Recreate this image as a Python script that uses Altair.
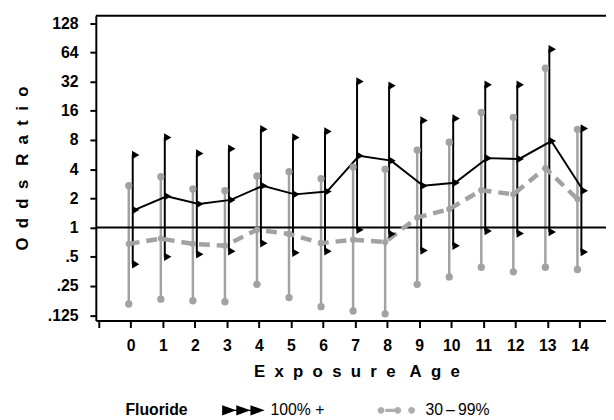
import altair as alt
import pandas as pd

# ---------------- data ----------------
ages = list(range(15))

hi_or = [1.52, 2.1, 1.75, 1.93, 2.7, 2.2, 2.35, 5.5, 4.9, 2.7, 2.9, 5.2, 5.1, 7.8, 2.4]
hi_lo = [0.42, 0.50, 0.53, 0.57, 0.69, 0.55, 0.57, 0.95, 0.86, 0.58, 0.65, 0.92, 0.87, 0.90, 0.56]
hi_up = [5.6, 8.5, 5.8, 6.5, 10.3, 8.5, 9.8, 32, 29, 12.7, 13.3, 29.6, 29.6, 69, 10.5]

mid_or = [0.68, 0.77, 0.68, 0.65, 0.95, 0.86, 0.69, 0.75, 0.71, 1.27, 1.55, 2.43, 2.2, 4.1, 1.97]
mid_lo = [0.163, 0.183, 0.176, 0.172, 0.26, 0.19, 0.153, 0.138, 0.129, 0.26, 0.31, 0.39, 0.35, 0.39, 0.37]
mid_up = [2.7, 3.35, 2.5, 2.4, 3.4, 3.77, 3.2, 4.2, 4.0, 6.3, 7.6, 15.4, 13.7, 44, 10.3]

groups = ["100% +", "30\u2009\u2013\u200999%"]
legend_title = "Fluoride"

y_tick_values = [0.125, 0.25, 0.5, 1, 2, 4, 8, 16, 32, 64, 128]
y_tick_labels = [".125", ".25", ".5", "1", "2", "4", "8", "16", "32", "64", "128"]
x_tick_values = list(range(-1, 15))

x_title = "Exposure Age"
y_title = "Odds Ratio"

# ---------------- styling ----------------
FONT = "Liberation Sans"
BLACK = "#000000"
GRAY = "#a2a2a2"
LEGEND_GRAY = "#adadad"

XMIN, XMAX = -1.09, 14.83
YMIN, YMAX = 0.110, 153.0


def spaced(text):
    words = text.split(" ")
    return "\u00a0\u00a0\u00a0".join("\u00a0\u00a0".join(w) for w in words)


rows = []
for i, a in enumerate(ages):
    rows.append({"age": a, "group": groups[0], "or": hi_or[i], "lo": hi_lo[i], "up": hi_up[i]})
    rows.append({"age": a, "group": groups[1], "or": mid_or[i], "lo": mid_lo[i], "up": mid_up[i]})
df = pd.DataFrame(rows)
hi = df[df["group"] == groups[0]]
mid = df[df["group"] == groups[1]]

xs = alt.Scale(domain=[XMIN, XMAX], nice=False, zero=False)
ys = alt.Scale(type="log", base=2, domain=[YMIN, YMAX], nice=False)

label_map = " : ".join(
    f"datum.value == {v} ? '{l}'" for v, l in zip(y_tick_values, y_tick_labels)
) + " : ''"

x_axis = alt.Axis(
    values=x_tick_values,
    labelExpr="datum.value < 0 ? '' : datum.label",
    title=spaced(x_title),
    grid=False,
    tickSize=7,
    tickWidth=2,
    tickColor=BLACK,
    domainColor=BLACK,
    domainWidth=2,
    labelPadding=10,
    labelFont=FONT,
    labelFontSize=16,
    labelFontWeight="bold",
    labelColor=BLACK,
    labelFlush=False,
    labelOverlap=False,
    titleFont=FONT,
    titleFontSize=17,
    titleFontWeight="bold",
    titleColor=BLACK,
    titleX=264,
    titleY=52,
    titleBaseline="middle",
)

y_axis = alt.Axis(
    values=y_tick_values,
    labelExpr=label_map,
    title=spaced(y_title),
    grid=False,
    tickSize=6,
    tickWidth=2,
    tickColor=BLACK,
    domainColor=BLACK,
    domainWidth=2,
    labelPadding=12,
    labelFont=FONT,
    labelFontSize=16,
    labelFontWeight="bold",
    labelColor=BLACK,
    labelOverlap=False,
    titleFont=FONT,
    titleFontSize=17,
    titleFontWeight="bold",
    titleColor=BLACK,
    titleX=-74,
    titleY=154.5,
    titleAngle=270,
    titleAlign="center",
    titleBaseline="middle",
)


def X(field):
    return alt.X(field, type="quantitative", scale=xs, axis=x_axis)


def Y(field):
    return alt.Y(field, type="quantitative", scale=ys, axis=y_axis)


gray_ci = alt.Chart(mid).mark_rule(color=GRAY, strokeWidth=2.5, xOffset=-2).encode(
    x=X("age"), y=Y("lo"), y2="up"
)
black_ci = alt.Chart(hi).mark_rule(color=BLACK, strokeWidth=2, xOffset=2).encode(
    x=X("age"), y=Y("lo"), y2="up"
)
ref_line = alt.Chart(pd.DataFrame({"one": [1.0]})).mark_rule(color=BLACK, strokeWidth=2).encode(
    y=Y("one")
)
black_line = alt.Chart(hi).mark_line(color=BLACK, strokeWidth=2, xOffset=4).encode(
    x=X("age"), y=Y("or")
)
gray_line = alt.Chart(mid).mark_line(
    color=GRAY, strokeWidth=4.5, strokeDash=[11, 7], xOffset=-2
).encode(x=X("age"), y=Y("or"))

gray_ends = alt.Chart(mid).transform_fold(["lo", "up"], as_=["k", "v"]).mark_circle(
    color=GRAY, size=55, opacity=1, xOffset=-2
).encode(x=X("age"), y=Y("v:Q"))
gray_est = alt.Chart(mid).mark_circle(color=GRAY, size=40, opacity=1, xOffset=-2).encode(
    x=X("age"), y=Y("or")
)
black_tri = alt.Chart(hi).transform_fold(["lo", "up", "or"], as_=["k", "v"]).mark_point(
    shape="triangle-right", filled=True, size=75, color=BLACK, opacity=1, xOffset=5
).encode(x=X("age"), y=Y("v:Q"))

top_border = alt.Chart(
    pd.DataFrame({"x": [XMIN], "x2": [XMAX], "y": [YMAX]})
).mark_rule(color=BLACK, strokeWidth=2).encode(x=X("x"), x2="x2", y=Y("y"))

# legend symbols (custom paths, unit = sqrt(size)/2 px)
PATH_HI = (
    "M-1,-0.75L1.05,0L-1,0.75Z"
    "M1.05,-0.75L3.1,0L1.05,0.75Z"
    "M3.1,-0.75L5.15,0L3.1,0.75Z"
    "M-1,-0.1L5,-0.1L5,0.1L-1,0.1Z"
)
PATH_MID = (
    "M-0.93,0A0.5,0.5 0 1,1 0.07,0A0.5,0.5 0 1,1 -0.93,0Z"
    "M0.2,-0.22L1.55,-0.22L1.55,0.22L0.2,0.22Z"
    "M1.5,0A0.5,0.5 0 1,1 2.5,0A0.5,0.5 0 1,1 1.5,0Z"
    "M3.5,0A0.5,0.5 0 1,1 4.5,0A0.5,0.5 0 1,1 3.5,0Z"
)

LEG = alt.Legend(
    orient="none",
    legendX=30,
    legendY=392,
    direction="horizontal",
    title=legend_title,
    titleOrient="left",
    titleFont=FONT,
    titleFontSize=16,
    titleFontWeight="bold",
    titleColor=BLACK,
    titlePadding=33,
    labelFont=FONT,
    labelFontSize=16,
    labelColor=BLACK,
    symbolSize=196,
    symbolStrokeWidth=0,
    labelOffset=34,
    columnPadding=52,
)

legend_layer = alt.Chart(
    pd.DataFrame({"group": groups, "age": [-5.0, -5.0], "or": [1.0, 1.0]})
).mark_point(filled=True, opacity=1, clip=True).encode(
    x=X("age"),
    y=Y("or"),
    color=alt.Color("group:N", scale=alt.Scale(domain=groups, range=[BLACK, LEGEND_GRAY]), legend=LEG),
    shape=alt.Shape("group:N", scale=alt.Scale(domain=groups, range=[PATH_HI, PATH_MID]), legend=LEG),
)

chart = alt.layer(
    gray_ci, black_ci, ref_line, black_line, gray_line, gray_ends, gray_est, black_tri,
    top_border, legend_layer,
).properties(
    width=517,
    height=309,
    autosize=alt.AutoSizeParams(type="none"),
    padding={"left": 89, "top": 5, "right": 0, "bottom": 98},
    background="white",
).configure_view(stroke=None)

chart.save("out.html", embed_options={"renderer": "svg", "actions": False})
